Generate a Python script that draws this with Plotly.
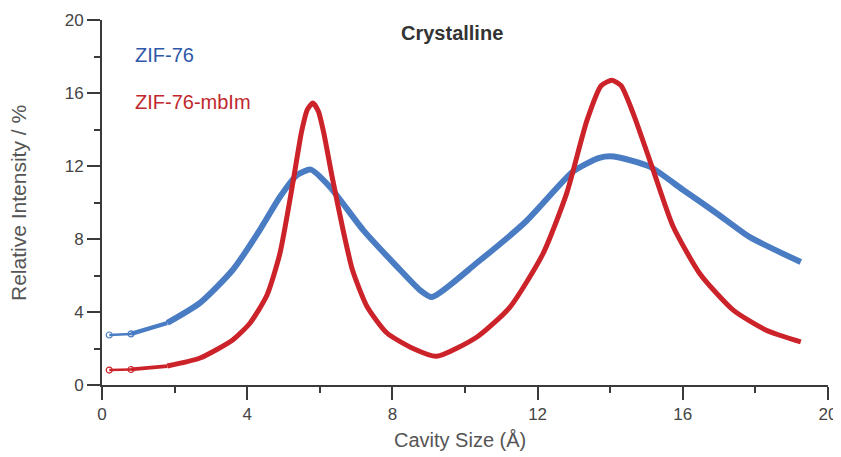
import plotly.graph_objects as go

# ZIF-76 (blue)
zif76_x = [0.2, 0.8, 1.8, 2.7, 3.6, 4.35, 4.9, 5.37, 5.75, 6.28, 7.19, 8.12, 8.76, 9.09,
           10.33, 11.7, 12.98, 13.7, 14.1, 15.1, 16.0, 16.94, 17.85, 19.25]
zif76_y = [2.74, 2.8, 3.4, 4.5, 6.3, 8.5, 10.3, 11.5, 11.8, 10.85, 8.5, 6.5, 5.2, 4.82,
           6.7, 9.0, 11.7, 12.45, 12.52, 11.95, 10.7, 9.4, 8.1, 6.74]

# ZIF-76-mbIm (red)
mbim_x = [0.2, 0.8, 1.8, 2.7, 3.6, 4.08, 4.54, 4.9, 5.26, 5.5, 5.66, 5.81, 5.96, 6.1, 6.36,
          6.64, 6.9, 7.3, 7.85, 8.57, 9.22, 10.33, 11.24, 12.15, 12.8, 13.36, 13.75, 14.05,
          14.3, 14.63, 15.18, 15.73, 16.47, 17.39, 18.3, 19.25]
mbim_y = [0.82, 0.85, 1.04, 1.48, 2.47, 3.4, 4.9, 7.2, 11.1, 13.9, 15.1, 15.45, 15.0, 13.9,
          11.2, 8.5, 6.3, 4.3, 2.85, 2.0, 1.57, 2.63, 4.27, 7.2, 10.5, 14.5, 16.4, 16.7,
          16.4, 14.9, 11.8, 8.7, 6.1, 4.1, 3.0, 2.36]

tick_vals = [0, 4, 8, 12, 16, 20]
tick_text = ["0", "4", "8", "12", "16", "20"]
minor_vals = [2, 6, 10, 14, 18]

BLUE = "#4A7CC4"
RED = "#CC2229"
AX = "#3a3a3a"
FONT = "Liberation Sans, Arial"

fig = go.Figure()
for xs, ys, col, wthick in [(zif76_x, zif76_y, BLUE, 6), (mbim_x, mbim_y, RED, 5)]:
    # sparse open-circle markers at the start -> thinner line, thickening as data get dense
    fig.add_trace(go.Scatter(x=xs[:2], y=ys[:2], mode="lines", hoverinfo="skip",
                             line=dict(color=col, width=2.5)))
    fig.add_trace(go.Scatter(x=xs[1:3], y=ys[1:3], mode="lines", hoverinfo="skip",
                             line=dict(color=col, width=(2.5 + wthick) / 2)))
    fig.add_trace(go.Scatter(x=xs[2:], y=ys[2:], mode="lines",
                             line=dict(color=col, width=wthick, shape="spline", smoothing=0.6)))
    fig.add_trace(go.Scatter(x=xs[:2], y=ys[:2], mode="markers", hoverinfo="skip",
                             marker=dict(symbol="circle-open", size=6, color=col,
                                         line=dict(width=1.2, color=col))))

axis_common = dict(range=[0, 20], tickvals=tick_vals, ticktext=tick_text, automargin=False,
                   showgrid=False, zeroline=False, showline=True, linecolor=AX, linewidth=2,
                   ticks="outside", ticklen=13, tickwidth=2, tickcolor=AX,
                   minor=dict(tickvals=minor_vals, ticks="outside", ticklen=6,
                              tickwidth=2, tickcolor=AX),
                   tickfont=dict(family=FONT, size=17, color="#444"))

# page body has an 8px margin; target plot area px 102..828 x 20..385 in the screenshot
L, R, T, B = 94, 21, 12, 80
W, H = 841, 457

fig.update_layout(
    width=W, height=H,
    margin=dict(l=L, r=R, t=T, b=B, autoexpand=False),
    plot_bgcolor="white", paper_bgcolor="white",
    showlegend=False,
    xaxis=axis_common,
    yaxis=axis_common,
)

pw, ph = W - L - R, H - T - B
def px2paper(px, py):
    # screenshot pixel -> paper coords
    return (px - 102) / pw, (385 - py) / ph

anns = []
for text, px, py, col, anchor, size, angle in [
    ("ZIF-76", 133, 55, "#2F58A8", "left", 20, 0),
    ("ZIF-76-mbIm", 133, 102, "#C0282E", "left", 20, 0),
    ("<b>Crystalline</b>", 452, 33, "#333", "center", 20, 0),
    ("Cavity Size (Å)", 460, 440, "#555", "center", 20, 0),
    ("Relative Intensity / %", 18, 203, "#555", "center", 21, -90),
]:
    xp, yp = px2paper(px, py)
    anns.append(dict(text=text, x=xp, y=yp, xref="paper", yref="paper", showarrow=False,
                     xanchor=anchor, yanchor="middle", textangle=angle,
                     font=dict(family=FONT, size=size, color=col)))
fig.update_layout(annotations=anns)

fig.write_html("out.html")
